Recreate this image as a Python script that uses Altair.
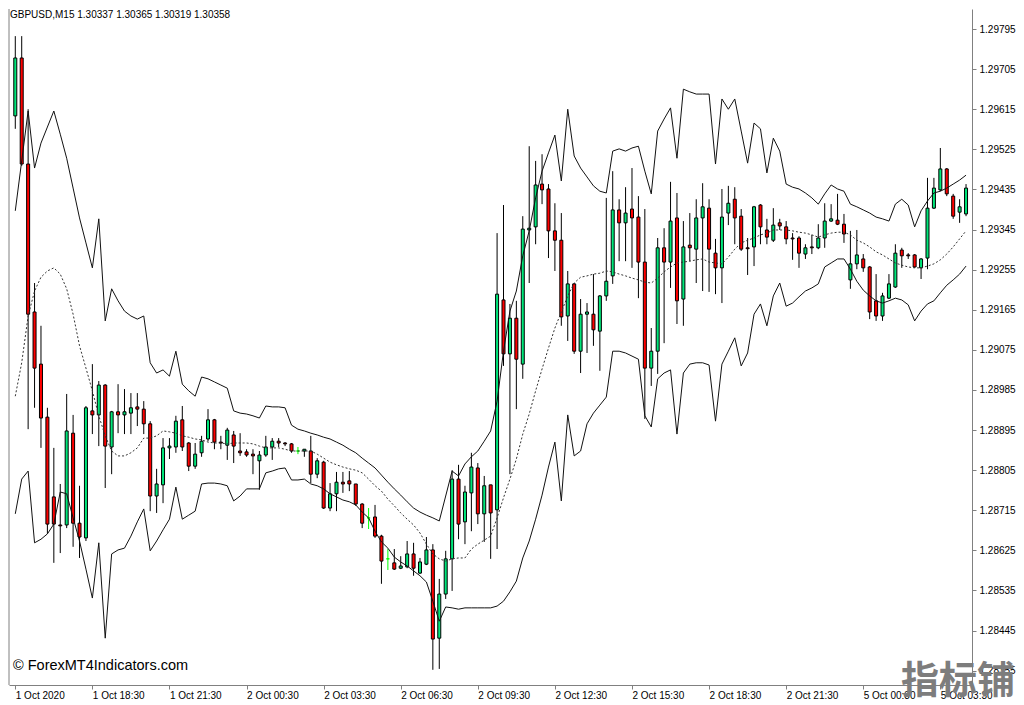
import altair as alt
import pandas as pd
import json

# ---- candle data (M15, index 0 = 1 Oct 2020 15:30) ----
open_ = [1.29600, 1.29730, 1.29492, 1.29160, 1.29043, 1.28924, 1.28745, 1.28682, 1.28682, 1.28888,
         1.28686, 1.28653, 1.28938, 1.28929, 1.28996, 1.28857, 1.28936, 1.28929, 1.28933, 1.28947,
         1.28942, 1.28909, 1.28747, 1.28772, 1.28855, 1.28857, 1.28918, 1.28866, 1.28814, 1.28844,
         1.28875, 1.28918, 1.28868, 1.28861, 1.28884, 1.28848, 1.28846, 1.28841, 1.28826, 1.28839,
         1.28857, 1.28870, 1.28866, 1.28864, 1.28848, 1.28848, 1.28848, 1.28796, 1.28823, 1.28720,
         1.28752, 1.28778, 1.28781, 1.28774, 1.28729, 1.28698, 1.28700, 1.28657, 1.28606, 1.28597,
         1.28585, 1.28588, 1.28617, 1.28574, 1.28594, 1.28626, 1.28428, 1.28527, 1.28606, 1.28785,
         1.28689, 1.28754, 1.28810, 1.28707, 1.28772, 1.28716, 1.29187, 1.29066, 1.29146, 1.29043,
         1.29344, 1.29351, 1.29447, 1.29436, 1.29342, 1.29321, 1.29151, 1.29223, 1.29072, 1.29155,
         1.29155, 1.29117, 1.29196, 1.29241, 1.29389, 1.29360, 1.29391, 1.29373, 1.29272, 1.29034,
         1.29072, 1.29304, 1.29272, 1.29371, 1.29189, 1.29310, 1.29301, 1.29371, 1.29393, 1.29292,
         1.29259, 1.29382, 1.29413, 1.29375, 1.29304, 1.29306, 1.29400, 1.29344, 1.29321, 1.29360,
         1.29351, 1.29326, 1.29326, 1.29290, 1.29306, 1.29304, 1.29326, 1.29364, 1.29366, 1.29357,
         1.29232, 1.29268, 1.29279, 1.29261, 1.29185, 1.29151, 1.29191, 1.29216, 1.29299, 1.29288,
         1.29288, 1.29259, 1.29281, 1.29393, 1.29434, 1.29481, 1.29420, 1.29384, 1.29380]

high = [1.29779, 1.29779, 1.29615, 1.29225, 1.29129, 1.28945, 1.28855, 1.28774, 1.28976, 1.28929,
        1.28770, 1.28949, 1.29043, 1.29005, 1.28998, 1.28938, 1.28998, 1.28987, 1.28978, 1.28978,
        1.28960, 1.28915, 1.28808, 1.28877, 1.28877, 1.28927, 1.28949, 1.28868, 1.28866, 1.28882,
        1.28942, 1.28920, 1.28882, 1.28900, 1.28893, 1.28888, 1.28852, 1.28852, 1.28848, 1.28882,
        1.28877, 1.28877, 1.28868, 1.28866, 1.28857, 1.28852, 1.28882, 1.28832, 1.28826, 1.28776,
        1.28801, 1.28801, 1.28803, 1.28774, 1.28731, 1.28720, 1.28727, 1.28660, 1.28628, 1.28628,
        1.28612, 1.28646, 1.28642, 1.28608, 1.28655, 1.28639, 1.28561, 1.28624, 1.28805, 1.28817,
        1.28770, 1.28844, 1.28821, 1.28792, 1.28772, 1.29337, 1.29400, 1.29178, 1.29185, 1.29375,
        1.29532, 1.29499, 1.29514, 1.29447, 1.29404, 1.29382, 1.29252, 1.29225, 1.29189, 1.29180,
        1.29245, 1.29198, 1.29416, 1.29476, 1.29413, 1.29440, 1.29483, 1.29420, 1.29391, 1.29124,
        1.29326, 1.29348, 1.29452, 1.29427, 1.29364, 1.29382, 1.29413, 1.29449, 1.29413, 1.29324,
        1.29436, 1.29443, 1.29440, 1.29391, 1.29326, 1.29398, 1.29402, 1.29369, 1.29393, 1.29369,
        1.29364, 1.29337, 1.29330, 1.29312, 1.29333, 1.29357, 1.29404, 1.29402, 1.29425, 1.29380,
        1.29342, 1.29344, 1.29290, 1.29263, 1.29245, 1.29203, 1.29245, 1.29312, 1.29304, 1.29292,
        1.29290, 1.29281, 1.29461, 1.29461, 1.29528, 1.29483, 1.29425, 1.29413, 1.29447]

low = [1.29571, 1.29488, 1.28897, 1.28945, 1.28855, 1.28662, 1.28597, 1.28619, 1.28675, 1.28633,
       1.28608, 1.28646, 1.28886, 1.28859, 1.28765, 1.28796, 1.28888, 1.28886, 1.28886, 1.28904,
       1.28886, 1.28713, 1.28709, 1.28731, 1.28830, 1.28844, 1.28848, 1.28803, 1.28808, 1.28835,
       1.28870, 1.28852, 1.28852, 1.28828, 1.28821, 1.28837, 1.28835, 1.28796, 1.28761, 1.28835,
       1.28828, 1.28857, 1.28859, 1.28844, 1.28841, 1.28835, 1.28776, 1.28787, 1.28718, 1.28713,
       1.28713, 1.28754, 1.28758, 1.28725, 1.28675, 1.28673, 1.28653, 1.28550, 1.28581, 1.28581,
       1.28583, 1.28585, 1.28568, 1.28572, 1.28592, 1.28357, 1.28359, 1.28516, 1.28534, 1.28650,
       1.28639, 1.28668, 1.28684, 1.28644, 1.28606, 1.28628, 1.29039, 1.28796, 1.28942, 1.29010,
       1.29225, 1.29312, 1.29402, 1.29281, 1.29252, 1.29129, 1.29095, 1.29066, 1.29023, 1.29068,
       1.29084, 1.29028, 1.29185, 1.29223, 1.29274, 1.29274, 1.29259, 1.29191, 1.28920, 1.28994,
       1.29021, 1.29090, 1.29214, 1.29133, 1.29129, 1.29274, 1.29225, 1.29207, 1.29205, 1.29200,
       1.29180, 1.29355, 1.29312, 1.29297, 1.29243, 1.29263, 1.29312, 1.29312, 1.29317, 1.29344,
       1.29312, 1.29277, 1.29259, 1.29279, 1.29290, 1.29301, 1.29304, 1.29362, 1.29355, 1.29315,
       1.29212, 1.29256, 1.29250, 1.29144, 1.29140, 1.29140, 1.29189, 1.29214, 1.29259, 1.29279,
       1.29259, 1.29234, 1.29256, 1.29391, 1.29431, 1.29420, 1.29369, 1.29360, 1.29375]

close = [1.29730, 1.29492, 1.29155, 1.29034, 1.28922, 1.28684, 1.28684, 1.28680, 1.28893, 1.28686,
         1.28655, 1.28945, 1.28929, 1.28996, 1.28859, 1.28936, 1.28929, 1.28936, 1.28945, 1.28942,
         1.28909, 1.28747, 1.28774, 1.28855, 1.28859, 1.28915, 1.28857, 1.28814, 1.28841, 1.28870,
         1.28918, 1.28868, 1.28866, 1.28895, 1.28859, 1.28844, 1.28839, 1.28837, 1.28839, 1.28857,
         1.28870, 1.28866, 1.28864, 1.28848, 1.28848, 1.28852, 1.28796, 1.28826, 1.28720, 1.28752,
         1.28778, 1.28774, 1.28774, 1.28729, 1.28686, 1.28698, 1.28657, 1.28601, 1.28606, 1.28583,
         1.28590, 1.28617, 1.28585, 1.28599, 1.28626, 1.28426, 1.28527, 1.28606, 1.28785, 1.28684,
         1.28756, 1.28812, 1.28707, 1.28770, 1.28709, 1.29200, 1.29066, 1.29146, 1.29054, 1.29346,
         1.29348, 1.29445, 1.29434, 1.29342, 1.29321, 1.29149, 1.29223, 1.29072, 1.29155, 1.29160,
         1.29120, 1.29196, 1.29229, 1.29389, 1.29360, 1.29382, 1.29371, 1.29272, 1.29034, 1.29072,
         1.29304, 1.29272, 1.29364, 1.29185, 1.29306, 1.29304, 1.29371, 1.29396, 1.29301, 1.29259,
         1.29373, 1.29404, 1.29371, 1.29301, 1.29302, 1.29396, 1.29351, 1.29328, 1.29355, 1.29353,
         1.29324, 1.29324, 1.29292, 1.29304, 1.29304, 1.29326, 1.29364, 1.29369, 1.29357, 1.29335,
         1.29268, 1.29288, 1.29259, 1.29160, 1.29151, 1.29196, 1.29223, 1.29292, 1.29286, 1.29286,
         1.29261, 1.29279, 1.29393, 1.29438, 1.29481, 1.29425, 1.29375, 1.29396, 1.29438]

# ---- band indicator ----
upper = [1.29387, 1.29499, 1.29611, 1.29483, 1.29539, 1.29575, 1.29611, 1.29559, 1.29505, 1.29438,
         1.29371, 1.29315, 1.29259, 1.29369, 1.29140, 1.29212, 1.29185, 1.29162, 1.29151, 1.29144,
         1.29151, 1.29046, 1.29023, 1.29030, 1.29016, 1.29072, 1.28998, 1.28983, 1.28971, 1.29014,
         1.29010, 1.29003, 1.28996, 1.28989, 1.28938, 1.28933, 1.28931, 1.28927, 1.28922, 1.28949,
         1.28947, 1.28947, 1.28945, 1.28906, 1.28897, 1.28893, 1.28888, 1.28884, 1.28879, 1.28875,
         1.28868, 1.28861, 1.28852, 1.28844, 1.28832, 1.28821, 1.28810, 1.28794, 1.28778, 1.28763,
         1.28749, 1.28734, 1.28720, 1.28711, 1.28704, 1.28698, 1.28691, 1.28747, 1.28803, 1.28792,
         1.28819, 1.28835, 1.28848, 1.28870, 1.28893, 1.28960, 1.29072, 1.29162, 1.29207, 1.29286,
         1.29342, 1.29416, 1.29476, 1.29517, 1.29557, 1.29454, 1.29615, 1.29510, 1.29483, 1.29463,
         1.29443, 1.29431, 1.29427, 1.29521, 1.29526, 1.29521, 1.29528, 1.29532, 1.29476, 1.29425,
         1.29566, 1.29593, 1.29618, 1.29505, 1.29660, 1.29654, 1.29649, 1.29649, 1.29649, 1.29492,
         1.29638, 1.29615, 1.29638, 1.29566, 1.29494, 1.29584, 1.29571, 1.29472, 1.29550, 1.29521,
         1.29447, 1.29440, 1.29436, 1.29427, 1.29416, 1.29402, 1.29425, 1.29445, 1.29436, 1.29431,
         1.29402, 1.29396, 1.29389, 1.29382, 1.29373, 1.29369, 1.29364, 1.29402, 1.29413, 1.29400,
         1.29351, 1.29387, 1.29409, 1.29427, 1.29431, 1.29438, 1.29447, 1.29456, 1.29467]

middle = [1.28971, 1.29046, 1.29151, 1.29207, 1.29238, 1.29252, 1.29259, 1.29245, 1.29212, 1.29155,
          1.29084, 1.29034, 1.28983, 1.28927, 1.28882, 1.28848, 1.28837, 1.28837, 1.28844, 1.28855,
          1.28877, 1.28877, 1.28882, 1.28893, 1.28891, 1.28888, 1.28882, 1.28879, 1.28875, 1.28873,
          1.28868, 1.28866, 1.28866, 1.28864, 1.28866, 1.28866, 1.28866, 1.28864, 1.28859, 1.28855,
          1.28855, 1.28855, 1.28852, 1.28848, 1.28848, 1.28848, 1.28848, 1.28841, 1.28832, 1.28823,
          1.28817, 1.28812, 1.28808, 1.28805, 1.28799, 1.28785, 1.28770, 1.28758, 1.28740, 1.28725,
          1.28709, 1.28695, 1.28682, 1.28664, 1.28639, 1.28617, 1.28606, 1.28601, 1.28606, 1.28608,
          1.28608, 1.28628, 1.28639, 1.28648, 1.28657, 1.28698, 1.28743, 1.28785, 1.28830, 1.28886,
          1.28931, 1.28983, 1.29032, 1.29079, 1.29124, 1.29160, 1.29196, 1.29225, 1.29238, 1.29241,
          1.29245, 1.29247, 1.29252, 1.29250, 1.29245, 1.29241, 1.29236, 1.29232, 1.29227, 1.29225,
          1.29236, 1.29250, 1.29261, 1.29270, 1.29272, 1.29274, 1.29277, 1.29279, 1.29272, 1.29270,
          1.29268, 1.29283, 1.29301, 1.29315, 1.29321, 1.29326, 1.29333, 1.29337, 1.29344, 1.29344,
          1.29344, 1.29342, 1.29339, 1.29337, 1.29333, 1.29328, 1.29333, 1.29337, 1.29339, 1.29339,
          1.29333, 1.29321, 1.29315, 1.29306, 1.29295, 1.29288, 1.29279, 1.29270, 1.29265, 1.29261,
          1.29259, 1.29259, 1.29263, 1.29268, 1.29277, 1.29290, 1.29306, 1.29324, 1.29342]

lower = [1.28707, 1.28785, 1.28803, 1.28642, 1.28650, 1.28662, 1.28684, 1.28756, 1.28752, 1.28698,
         1.28646, 1.28583, 1.28518, 1.28642, 1.28428, 1.28617, 1.28626, 1.28630, 1.28657, 1.28689,
         1.28718, 1.28624, 1.28646, 1.28671, 1.28695, 1.28767, 1.28695, 1.28704, 1.28713, 1.28774,
         1.28776, 1.28776, 1.28774, 1.28770, 1.28736, 1.28747, 1.28763, 1.28763, 1.28763, 1.28799,
         1.28803, 1.28808, 1.28810, 1.28783, 1.28783, 1.28785, 1.28774, 1.28770, 1.28763, 1.28752,
         1.28745, 1.28738, 1.28734, 1.28727, 1.28711, 1.28698, 1.28668, 1.28644, 1.28630, 1.28610,
         1.28599, 1.28590, 1.28579, 1.28568, 1.28554, 1.28511, 1.28466, 1.28498, 1.28496, 1.28493,
         1.28496, 1.28496, 1.28496, 1.28496, 1.28496, 1.28500, 1.28511, 1.28532, 1.28556, 1.28608,
         1.28646, 1.28695, 1.28749, 1.28812, 1.28868, 1.28736, 1.28929, 1.28837, 1.28848, 1.28909,
         1.28933, 1.28951, 1.28969, 1.29072, 1.29072, 1.29068, 1.29061, 1.29054, 1.28927, 1.28902,
         1.29010, 1.29023, 1.29030, 1.28886, 1.29023, 1.29043, 1.29046, 1.29046, 1.29041, 1.28915,
         1.29043, 1.29072, 1.29102, 1.29039, 1.29068, 1.29155, 1.29178, 1.29129, 1.29196, 1.29225,
         1.29173, 1.29180, 1.29194, 1.29207, 1.29214, 1.29223, 1.29261, 1.29270, 1.29279, 1.29279,
         1.29256, 1.29229, 1.29209, 1.29196, 1.29185, 1.29180, 1.29185, 1.29191, 1.29187, 1.29176,
         1.29140, 1.29162, 1.29178, 1.29185, 1.29203, 1.29220, 1.29232, 1.29245, 1.29263]

# ---- axis labels ----
tick_idx = [0, 12, 24, 36, 48, 60, 72, 84, 96, 108, 120, 132, 144]
tick_labels = ["1 Oct 2020", "1 Oct 18:30", "1 Oct 21:30", "2 Oct 00:30", "2 Oct 03:30",
               "2 Oct 06:30", "2 Oct 09:30", "2 Oct 12:30", "2 Oct 15:30", "2 Oct 18:30",
               "2 Oct 21:30", "5 Oct 00:30", "5 Oct 03:30"]
price_ticks = [1.28355, 1.28445, 1.28535, 1.28625, 1.28715, 1.28805, 1.28895, 1.28985, 1.29075,
               1.29165, 1.29255, 1.29345, 1.29435, 1.29525, 1.29615, 1.29705, 1.29795]

header = "GBPUSD,M15  1.30337 1.30365 1.30319 1.30358"
watermark = "\u00a9 ForexMT4Indicators.com"
logo = "指标铺"

W, H = 963, 676
FONT = "Liberation Sans"

df = pd.DataFrame({"i": list(range(len(open_))), "open": open_, "high": high, "low": low,
                   "close": close, "upper": upper, "middle": middle, "lower": lower})
df["dir"] = ["up" if c > o else ("down" if c < o else "doji") for o, c in zip(open_, close)]

xscale = alt.Scale(domain=[-0.2, 148.15], nice=False, zero=False)
yscale = alt.Scale(domain=[1.283229, 1.298399], nice=False, zero=False)

label_js = json.dumps(tick_labels)
xaxis = alt.Axis(values=tick_idx, labelExpr=f"{label_js}[round(datum.value/12)]",
                 title=None, grid=False, tickSize=4, tickColor="#808080",
                 domainColor="#808080", labelAlign="left", labelBaseline="top",
                 labelPadding=1, labelFlush=False, labelOverlap=False,
                 labelFont=FONT, labelFontSize=10, labelColor="#000000")
yaxis = alt.Axis(values=price_ticks, format=".5f", orient="right", title=None, grid=False,
                 tickSize=4, tickColor="#808080", domainColor="#808080", labelPadding=3,
                 labelFont=FONT, labelFontSize=10, labelColor="#000000")

X = alt.X("i:Q", scale=xscale, axis=xaxis)

def Y(field):
    return alt.Y(f"{field}:Q", scale=yscale, axis=yaxis)

base = alt.Chart(df)

wicks = base.mark_rule(strokeWidth=1).encode(
    x=X, y=Y("low"), y2="high",
    color=alt.Color("dir:N", scale=alt.Scale(domain=["up", "down", "doji"],
                                             range=["#000000", "#000000", "#00FF00"]), legend=None))

bodies = base.mark_bar(size=3, strokeWidth=1).encode(
    x=X, y=Y("open"), y2="close",
    fill=alt.Fill("dir:N", scale=alt.Scale(domain=["up", "down", "doji"],
                                           range=["#00E77A", "#FF0000", "#00FF00"]), legend=None),
    stroke=alt.Stroke("dir:N", scale=alt.Scale(domain=["up", "down", "doji"],
                                               range=["#000000", "#000000", "#00FF00"]), legend=None))

up_line = base.mark_line(color="#111111", strokeWidth=1).encode(x=X, y=Y("upper"))
lo_line = base.mark_line(color="#111111", strokeWidth=1).encode(x=X, y=Y("lower"))
mid_line = base.mark_line(color="#333333", strokeWidth=1, strokeDash=[2, 2]).encode(x=X, y=Y("middle"))

one = pd.DataFrame({"t": [header]})
left_border = alt.Chart(one).mark_rule(color="#808080", strokeWidth=1).encode(
    x=alt.value(0), y=alt.value(0), y2=alt.value(H))

title_txt = alt.Chart(pd.DataFrame({"t": [header]})).mark_text(
    align="left", baseline="middle", font=FONT, fontSize=10, color="#000000").encode(
    x=alt.value(1), y=alt.value(5.5), text="t:N")

wm_txt = alt.Chart(pd.DataFrame({"t": [watermark]})).mark_text(
    align="left", baseline="middle", font=FONT, fontSize=14.5, color="#000000").encode(
    x=alt.value(4), y=alt.value(657), text="t:N")

logo_txt = alt.Chart(pd.DataFrame({"t": [logo]})).mark_text(
    align="center", baseline="middle", font="Noto Sans CJK SC", fontSize=38,
    fontWeight="bold", color="#7d7d7d").encode(
    x=alt.value(949), y=alt.value(673), text="t:N")

chart = alt.layer(
    left_border, wicks, bodies, up_line, lo_line, mid_line, title_txt, wm_txt, logo_txt
).properties(width=W, height=H, background="#ffffff", padding=0).configure_view(stroke=None)

chart.save("out.html", embed_options={"renderer": "svg", "actions": False})
